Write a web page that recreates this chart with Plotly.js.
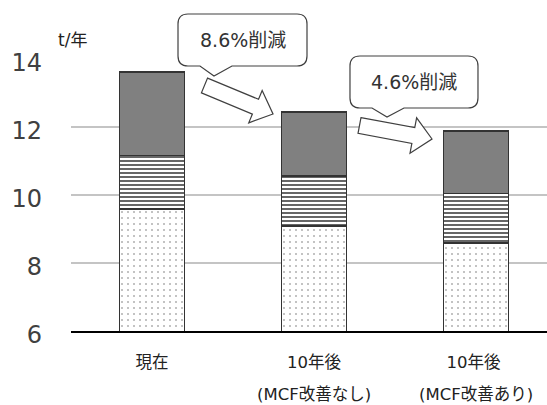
<!DOCTYPE html>
<html>
<head>
<meta charset="utf-8">
<script src="https://cdn.plot.ly/plotly-3.0.1.min.js"></script>
<style>
  html, body { margin: 0; padding: 0; background: #fff; }
  #chart { width: 547px; height: 405px; }
</style>
</head>
<body>
<div id="chart"></div>
<script>
// Categories (x axis) and the second row of each label
const categories = ['現在', '10年後', '10年後 '];
const subLabels = ['', '(MCF改善なし)', '(MCF改善あり)'];

// Stacked components (t/年), bottom to top
const dottedPart = [9.58, 9.09, 8.58];
const stripedPart = [1.58, 1.47, 1.46];
const grayPart = [2.46, 1.89, 1.84];

// Y axis ticks
const yTicks = [6, 8, 10, 12, 14];
const yRange = [6, 14];

// Totals and reductions between consecutive scenarios
const totals = categories.map((_, i) => dottedPart[i] + stripedPart[i] + grayPart[i]);
const reduction = (a, b) => ((1 - b / a) * 100).toFixed(1) + '%削減';

// Plot-area geometry in pixels, used to place the callouts
const M = { l: 71, r: 0, t: 59, b: 74 };
const W = 547 - M.l - M.r, H = 405 - M.t - M.b;
const px = x => (x - M.l) / W;
const py = y => (M.t + H - y) / H;
const P = (x, y) => px(x).toFixed(4) + ',' + py(y).toFixed(4);

// Speech bubble: rounded box with a pointer on the bottom edge
function bubble(x0, y0, x1, y1, r, pA, pB, tip) {
  return 'M' + P(x0 + r, y0) +
    ' L' + P(x1 - r, y0) + ' Q' + P(x1, y0) + ' ' + P(x1, y0 + r) +
    ' L' + P(x1, y1 - r) + ' Q' + P(x1, y1) + ' ' + P(x1 - r, y1) +
    ' L' + P(pB, y1) + ' L' + P(tip[0], tip[1]) + ' L' + P(pA, y1) +
    ' L' + P(x0 + r, y1) + ' Q' + P(x0, y1) + ' ' + P(x0, y1 - r) +
    ' L' + P(x0, y0 + r) + ' Q' + P(x0, y0) + ' ' + P(x0 + r, y0) + ' Z';
}

// Hollow block arrow from tail centre to tip
function blockArrow(tail, tip, shaftHalf, headHalf, headLen) {
  const dx = tip[0] - tail[0], dy = tip[1] - tail[1];
  const len = Math.hypot(dx, dy);
  const ux = dx / len, uy = dy / len, nx = -uy, ny = ux;
  const at = (s, n) => [tail[0] + ux * s + nx * n, tail[1] + uy * s + ny * n];
  const pts = [
    at(0, -shaftHalf), at(len - headLen, -shaftHalf), at(len - headLen, -headHalf),
    at(len, 0),
    at(len - headLen, headHalf), at(len - headLen, shaftHalf), at(0, shaftHalf)
  ];
  return 'M' + pts.map(p => P(p[0], p[1])).join(' L') + ' Z';
}

const edge = { color: '#333333', width: 1.6 };
const traces = [
  {
    type: 'bar', x: categories, y: dottedPart,
    marker: { color: '#ffffff', line: edge,
      pattern: { shape: '.', size: 6, solidity: 0.06, fgcolor: '#777777', bgcolor: '#ffffff' } },
    hoverinfo: 'skip'
  },
  {
    type: 'bar', x: categories, y: stripedPart,
    marker: { color: '#ffffff', line: edge,
      pattern: { shape: '-', size: 4, solidity: 0.3, fgcolor: '#000000', bgcolor: '#ffffff' } },
    hoverinfo: 'skip'
  },
  {
    type: 'bar', x: categories, y: grayPart,
    marker: { color: '#808080', line: edge },
    hoverinfo: 'skip'
  }
];

const FONT = '"DejaVu Sans", "Noto Sans CJK JP", sans-serif';
const shapeStyle = { xref: 'paper', yref: 'paper', type: 'path', fillcolor: '#ffffff',
  line: { color: '#404040', width: 1.2 }, layer: 'above' };

// Second row of the category labels, under each tick label
const subAnnotations = categories.map((c, i) => ({
  xref: 'x', yref: 'paper', x: c, y: py(394), text: subLabels[i], showarrow: false,
  xanchor: 'center', yanchor: 'middle', font: { family: FONT, size: 16.5, color: '#222222' }
})).filter(a => a.text);

const layout = {
  width: 547, height: 405,
  margin: M,
  paper_bgcolor: '#ffffff', plot_bgcolor: '#ffffff',
  showlegend: false,
  barmode: 'stack', bargap: 0.6,
  font: { family: FONT, color: '#333333' },
  xaxis: {
    type: 'category', range: [-0.5, 2.438],
    tickfont: { family: FONT, size: 16.5, color: '#222222' },
    showline: true, linecolor: '#000000', linewidth: 2,
    showgrid: false, ticks: '', ticklabelstandoff: 15,
    fixedrange: true
  },
  yaxis: {
    range: yRange, tickvals: yTicks,
    tickfont: { family: FONT, size: 24, color: '#404040' },
    showgrid: true, gridcolor: '#c4c4c4', gridwidth: 1.5,
    zeroline: false, showline: false, ticks: '',
    ticklabelstandoff: 28, ticklabelshift: 4,
    fixedrange: true
  },
  shapes: [
    Object.assign({ path: bubble(178, 14, 307, 66, 10, 200, 232, [214, 76]) }, shapeStyle),
    Object.assign({ path: bubble(350, 56, 478, 108, 10, 372, 404, [387, 117]) }, shapeStyle),
    Object.assign({ path: blockArrow([204.5, 85.5], [273, 114], 8, 17.5, 19) }, shapeStyle),
    Object.assign({ path: blockArrow([359.5, 125.5], [432, 139], 8, 18, 19) }, shapeStyle)
  ],
  annotations: [
    { xref: 'paper', yref: 'paper', x: px(72), y: py(40), text: 't/年', showarrow: false,
      xanchor: 'center', yanchor: 'middle', font: { family: FONT, size: 17, color: '#222222' } },
    { xref: 'paper', yref: 'paper', x: px(242.5), y: py(40), text: reduction(totals[0], totals[1]),
      showarrow: false, xanchor: 'center', yanchor: 'middle', font: { family: FONT, size: 19, color: '#333333' } },
    { xref: 'paper', yref: 'paper', x: px(414), y: py(82), text: reduction(totals[1], totals[2]),
      showarrow: false, xanchor: 'center', yanchor: 'middle', font: { family: FONT, size: 19, color: '#333333' } }
  ].concat(subAnnotations)
};

Plotly.newPlot('chart', traces, layout, { displayModeBar: false, staticPlot: true });
</script>
</body>
</html>
